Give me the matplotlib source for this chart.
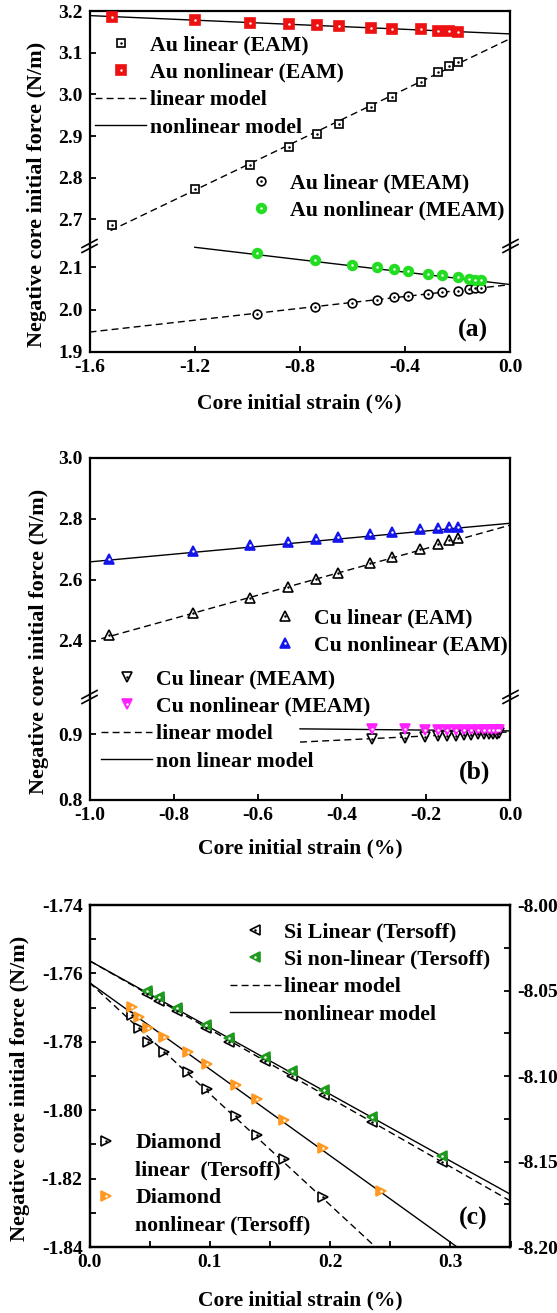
import matplotlib
matplotlib.use('Agg')
import matplotlib.pyplot as plt
from matplotlib.lines import Line2D
from matplotlib.ticker import FormatStrFormatter, MultipleLocator

plt.rcParams['font.family'] = ['Liberation Serif', 'DejaVu Serif']
plt.rcParams['font.weight'] = 'bold'
plt.rcParams['axes.unicode_minus'] = False

# ---------------- data: panel (a) Au ----------------
au_eam_x = [-1.513, -1.199, -0.989, -0.843, -0.736, -0.651, -0.530, -0.449, -0.341, -0.276, -0.232, -0.199]
au_eam_linear = [2.686, 2.772, 2.830, 2.873, 2.906, 2.930, 2.969, 2.994, 3.030, 3.053, 3.068, 3.078]
au_eam_nonlinear = [3.186, 3.178, 3.172, 3.169, 3.166, 3.163, 3.160, 3.158, 3.156, 3.153, 3.152, 3.150]
au_meam_x = [-0.962, -0.743, -0.603, -0.509, -0.442, -0.388, -0.314, -0.262, -0.199, -0.158, -0.134, -0.111]
au_meam_linear = [1.990, 2.006, 2.016, 2.023, 2.029, 2.032, 2.037, 2.041, 2.045, 2.048, 2.050, 2.052]
au_meam_nonlinear = [2.133, 2.117, 2.105, 2.100, 2.095, 2.091, 2.084, 2.081, 2.076, 2.072, 2.070, 2.069]
au_eam_linmodel_x, au_eam_linmodel_y = [-1.52, 0.0], [2.673, 3.134]
au_eam_nlmodel_x, au_eam_nlmodel_y = [-1.6, 0.0], [3.189, 3.145]
au_meam_linmodel_x, au_meam_linmodel_y = [-1.6, 0.0], [1.947, 2.059]
au_meam_nlmodel_x, au_meam_nlmodel_y = [-1.2, 0.0], [2.147, 2.059]

# ---------------- data: panel (b) Cu ----------------
cu_eam_x = [-0.954, -0.753, -0.619, -0.529, -0.463, -0.409, -0.333, -0.282, -0.214, -0.172, -0.145, -0.124]
cu_eam_linear = [2.420, 2.492, 2.542, 2.577, 2.604, 2.624, 2.654, 2.676, 2.701, 2.718, 2.731, 2.736]
cu_eam_nonlinear = [2.670, 2.696, 2.714, 2.725, 2.734, 2.740, 2.751, 2.758, 2.766, 2.769, 2.773, 2.775]
cu_meam_x = [-0.328, -0.251, -0.204, -0.173, -0.151, -0.130, -0.111, -0.095, -0.078, -0.063, -0.051, -0.041, -0.033, -0.027]
cu_meam_linear = [0.892, 0.894, 0.896, 0.897, 0.898, 0.898, 0.899, 0.899, 0.900, 0.900, 0.901, 0.901, 0.901, 0.902]
cu_meam_nonlinear = [0.9075, 0.9072, 0.9070, 0.9068, 0.9067, 0.9066, 0.9064, 0.9063, 0.9062, 0.9060, 0.9059, 0.9058, 0.9057, 0.9056]
cu_eam_linmodel_x, cu_eam_linmodel_y = [-0.972, 0.0], [2.407, 2.780]
cu_eam_nlmodel_x, cu_eam_nlmodel_y = [-1.0, 0.0], [2.659, 2.786]
cu_meam_linmodel_x, cu_meam_linmodel_y = [-0.5, 0.0], [0.888, 0.9035]
cu_meam_nlmodel_x, cu_meam_nlmodel_y = [-0.5, 0.0], [0.9081, 0.905]

# ---------------- data: panel (c) Si / Diamond ----------------
si_x = [0.048, 0.058, 0.073, 0.097, 0.116, 0.146, 0.168, 0.195, 0.235, 0.293]
si_nonlinear = [-8.050, -8.054, -8.060, -8.070, -8.078, -8.089, -8.097, -8.108, -8.124, -8.147]
si_linear = [-8.052, -8.056, -8.062, -8.072, -8.080, -8.091, -8.100, -8.111, -8.127, -8.150]
dia_x = [0.035, 0.041, 0.049, 0.062, 0.082, 0.098, 0.122, 0.139, 0.162, 0.194, 0.242]
dia_nonlinear = [-1.7697, -1.7727, -1.7761, -1.7785, -1.7831, -1.7866, -1.7926, -1.7967, -1.8029, -1.8111, -1.8236]
dia_linear_x = [0.035, 0.041, 0.049, 0.062, 0.082, 0.098, 0.122, 0.139, 0.162, 0.194]
dia_linear = [-1.7722, -1.7761, -1.7800, -1.7831, -1.7887, -1.7938, -1.8017, -1.8073, -1.8144, -1.8253]
si_linmodel_x, si_linmodel_y = [0.0, 0.35], [-8.0326, -8.1731]
si_nlmodel_x, si_nlmodel_y = [0.0, 0.35], [-8.0326, -8.1692]
dia_linmodel_x, dia_linmodel_y = [0.0, 0.2378], [-1.7627, -1.84]
dia_nlmodel_x, dia_nlmodel_y = [0.0, 0.3056], [-1.7627, -1.84]

W, H = 557, 1313
fig = plt.figure(figsize=(W / 100, H / 100), dpi=100)

def rect(l, r, t, b):
    return [l / W, 1 - b / H, (r - l) / W, (b - t) / H]

L, R = 89.5, 510.5
TICK = 14
LEG = 15.7
LAB = 15.5
DASH = (0, (5, 3))

def style(ax):
    for s in ax.spines.values():
        s.set_linewidth(1.6)
    ax.tick_params(which='both', direction='in', length=4, width=1.3,
                   labelsize=TICK, top=False, right=False)
    ax.tick_params(axis='y', pad=5)
    ax.tick_params(axis='x', pad=5)

def series(ax, x, y, marker, ms, face, edge, dot, z=3):
    h1, = ax.plot(x, y, ls='none', marker=marker, ms=ms, mfc=face, mec=edge, mew=1.2, zorder=z)
    h2, = ax.plot(x, y, ls='none', marker='o', ms=1.8, mfc=dot, mec=dot, mew=0, zorder=z + 0.1)
    return (h1, h2)

def model(ax, x, y, dashed):
    ax.plot(x, y, color='black', lw=1.0, ls=DASH if dashed else '-', zorder=2)

def fig_line(x0, y0, x1, y1, **kw):
    fig.add_artist(Line2D([x0 / W, x1 / W], [1 - y0 / H, 1 - y1 / H],
                          transform=fig.transFigure, color='black', lw=1.2, **kw))

def breaks(yb):
    for xs in (L, R):
        for dy in (-2.5, 2.5):
            fig_line(xs - 7.5, yb + dy + 4, xs + 7.5, yb + dy - 4)

def legend(handles, labels, x, ytop):
    return fig.legend(handles, labels, loc='upper left',
                      bbox_to_anchor=(x / W, 1 - ytop / H), bbox_transform=fig.transFigure,
                      frameon=False, borderpad=0, borderaxespad=0,
                      handlelength=2.34, handletextpad=0.18, labelspacing=0.33,
                      prop=dict(family='Liberation Serif', weight='bold', size=LEG))

def empty():
    return Line2D([], [], ls='none')

dashed_h = Line2D([], [], color='black', lw=1.0, ls=DASH)
solid_h = Line2D([], [], color='black', lw=1.0)

# ======================= panel (a) =======================
a1 = fig.add_axes(rect(L, R, 11, 246))
a2 = fig.add_axes(rect(L, R, 246, 352))
for ax in (a1, a2):
    style(ax)
    ax.set_xlim(-1.6, 0.0)
a1.set_ylim(2.636, 3.2)
a2.set_ylim(1.9, 2.15)
a1.spines['bottom'].set_visible(False)
a2.spines['top'].set_visible(False)
a1.tick_params(axis='x', bottom=False, labelbottom=False)
a1.set_yticks([2.7, 2.8, 2.9, 3.0, 3.1, 3.2])
a2.set_yticks([1.9, 2.0, 2.1])
a2.set_xticks([-1.6, -1.2, -0.8, -0.4, 0.0])
for ax in (a1, a2):
    ax.yaxis.set_major_formatter(FormatStrFormatter('%.1f'))
a2.xaxis.set_major_formatter(FormatStrFormatter('%.1f'))

model(a1, au_eam_linmodel_x, au_eam_linmodel_y, True)
model(a1, au_eam_nlmodel_x, au_eam_nlmodel_y, False)
model(a2, au_meam_linmodel_x, au_meam_linmodel_y, True)
model(a2, au_meam_nlmodel_x, au_meam_nlmodel_y, False)
h_au_el = series(a1, au_eam_x, au_eam_linear, 's', 6.2, 'white', 'black', 'black')
h_au_en = series(a1, au_eam_x, au_eam_nonlinear, 's', 6.6, '#ee1111', '#ee1111', 'white')
h_au_ml = series(a2, au_meam_x, au_meam_linear, 'o', 6.3, 'white', 'black', 'black')
h_au_mn = series(a2, au_meam_x, au_meam_nonlinear, 'o', 7.0, '#22dd22', '#22dd22', 'white')
breaks(246)

legend([h_au_el, h_au_en, dashed_h, solid_h],
       ['Au linear (EAM)', 'Au nonlinear (EAM)', 'linear model', 'nonlinear model'], 95, 35)
legend([h_au_ml, h_au_mn], ['Au linear (MEAM)', 'Au nonlinear (MEAM)'], 235.5, 173)
fig.text(473 / W, 1 - 330 / H, '(a)', ha='center', va='center', fontsize=18.5, fontweight='bold')
fig.text(299.5 / W, 1 - 403 / H, 'Core initial strain (%)', ha='center', va='center', fontsize=LAB, fontweight='bold')
fig.text(37 / W, 1 - 194 / H, 'Negative core initial force (N/m)', ha='center', va='center',
         rotation=90, fontsize=LAB + 0.5, fontweight='bold')

# ======================= panel (b) =======================
b1 = fig.add_axes(rect(L, R, 458, 697))
b2 = fig.add_axes(rect(L, R, 697, 800))
for ax in (b1, b2):
    style(ax)
    ax.set_xlim(-1.0, 0.0)
b1.set_ylim(2.2157, 3.0)
b2.set_ylim(0.8, 0.9565)
b1.spines['bottom'].set_visible(False)
b2.spines['top'].set_visible(False)
b1.tick_params(axis='x', bottom=False, labelbottom=False)
b1.set_yticks([2.4, 2.6, 2.8, 3.0])
b2.set_yticks([0.8, 0.9])
b2.set_xticks([-1.0, -0.8, -0.6, -0.4, -0.2, 0.0])
for ax in (b1, b2):
    ax.yaxis.set_major_formatter(FormatStrFormatter('%.1f'))
b2.xaxis.set_major_formatter(FormatStrFormatter('%.1f'))

model(b1, cu_eam_linmodel_x, cu_eam_linmodel_y, True)
model(b1, cu_eam_nlmodel_x, cu_eam_nlmodel_y, False)
model(b2, cu_meam_linmodel_x, cu_meam_linmodel_y, True)
model(b2, cu_meam_nlmodel_x, cu_meam_nlmodel_y, False)
h_cu_el = series(b1, cu_eam_x, cu_eam_linear, '^', 7.0, 'white', 'black', 'black')
h_cu_en = series(b1, cu_eam_x, cu_eam_nonlinear, '^', 7.0, '#1515ee', '#1515ee', 'white')
h_cu_ml = series(b2, cu_meam_x, cu_meam_linear, 'v', 7.0, 'white', 'black', 'black')
h_cu_mn = series(b2, cu_meam_x, cu_meam_nonlinear, 'v', 7.0, '#ff22ff', '#ff22ff', 'white')
breaks(697)

legend([h_cu_el, h_cu_en], ['Cu linear (EAM)', 'Cu nonlinear (EAM)'], 259.5, 608)
legend([h_cu_ml, h_cu_mn, dashed_h, solid_h],
       ['Cu linear (MEAM)', 'Cu nonlinear (MEAM)', 'linear model', 'non linear model'], 101, 669)
fig.text(475 / W, 1 - 772 / H, '(b)', ha='center', va='center', fontsize=18.5, fontweight='bold')
fig.text(300.5 / W, 1 - 848 / H, 'Core initial strain (%)', ha='center', va='center', fontsize=LAB, fontweight='bold')
fig.text(39 / W, 1 - 641.5 / H, 'Negative core initial force (N/m)', ha='center', va='center',
         rotation=90, fontsize=LAB + 0.5, fontweight='bold')

# ======================= panel (c) =======================
c1 = fig.add_axes(rect(L, R, 905, 1247))
c2 = c1.twinx()
style(c1)
style(c2)
c2.tick_params(which='both', right=True, left=False, labelright=True, labelleft=False)
c1.set_xlim(0.0, 0.35)
c1.set_ylim(-1.84, -1.74)
c2.set_ylim(-8.20, -8.00)
c1.xaxis.set_major_locator(MultipleLocator(0.1))
c1.xaxis.set_minor_locator(MultipleLocator(0.05))
c1.yaxis.set_major_locator(MultipleLocator(0.02))
c1.yaxis.set_minor_locator(MultipleLocator(0.01))
c2.yaxis.set_major_locator(MultipleLocator(0.05))
c2.yaxis.set_minor_locator(MultipleLocator(0.025))
c1.xaxis.set_major_formatter(FormatStrFormatter('%.1f'))
c1.yaxis.set_major_formatter(FormatStrFormatter('%.2f'))
c2.yaxis.set_major_formatter(FormatStrFormatter('%.2f'))

model(c1, dia_linmodel_x, dia_linmodel_y, True)
model(c1, dia_nlmodel_x, dia_nlmodel_y, False)
model(c2, si_linmodel_x, si_linmodel_y, True)
model(c2, si_nlmodel_x, si_nlmodel_y, False)
h_dl = series(c1, dia_linear_x, dia_linear, '>', 7.4, 'white', 'black', 'black')
h_dn = series(c1, dia_x, dia_nonlinear, '>', 7.4, '#ff9922', '#ff9922', 'white')
h_sl = series(c2, si_x, si_linear, '<', 7.4, 'white', 'black', 'black')
h_sn = series(c2, si_x, si_nonlinear, '<', 7.4, '#1f9a1f', '#1f9a1f', 'white')

legend([h_sl, h_sn, dashed_h, solid_h],
       ['Si Linear (Tersoff)', 'Si non-linear (Tersoff)', 'linear model', 'nonlinear model'], 229.5, 922)
legend([h_dl, empty(), h_dn, empty()],
       ['Diamond', 'linear  (Tersoff)', 'Diamond', 'nonlinear (Tersoff)'], 80.5, 1133)
fig.text(473 / W, 1 - 1218 / H, '(c)', ha='center', va='center', fontsize=18.5, fontweight='bold')
fig.text(300.5 / W, 1 - 1300 / H, 'Core initial strain (%)', ha='center', va='center', fontsize=LAB, fontweight='bold')
fig.text(19.6 / W, 1 - 1088 / H, 'Negative core initial force (N/m)', ha='center', va='center',
         rotation=90, fontsize=LAB + 0.5, fontweight='bold')

fig.savefig('out.png', dpi=100)
